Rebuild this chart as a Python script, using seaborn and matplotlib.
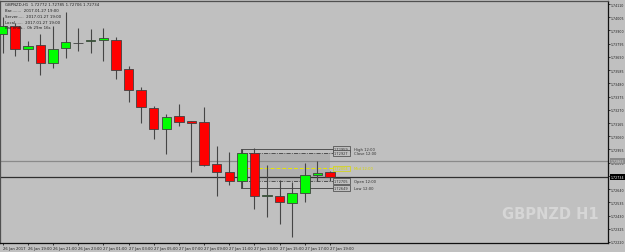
import matplotlib
matplotlib.use("Agg")
import matplotlib.pyplot as plt
import seaborn as sns
import numpy as np
import pandas as pd

# ---------------- data ----------------
times = ["26 Jan 17:00", "26 Jan 18:00", "26 Jan 19:00", "26 Jan 20:00", "26 Jan 21:00",
         "26 Jan 22:00", "26 Jan 23:00", "27 Jan 00:00", "27 Jan 01:00", "27 Jan 02:00",
         "27 Jan 03:00", "27 Jan 04:00", "27 Jan 05:00", "27 Jan 06:00", "27 Jan 07:00",
         "27 Jan 08:00", "27 Jan 09:00", "27 Jan 10:00", "27 Jan 11:00", "27 Jan 12:00",
         "27 Jan 13:00", "27 Jan 14:00", "27 Jan 15:00", "27 Jan 16:00", "27 Jan 17:00",
         "27 Jan 18:00", "27 Jan 19:00"]
opens = [1.73872, 1.73935, 1.73753, 1.73784, 1.73642, 1.73761, 1.73800, 1.73820, 1.73824,
         1.73824, 1.73594, 1.73427, 1.73284, 1.73118, 1.73221, 1.73177, 1.73173, 1.72840,
         1.72776, 1.72705, 1.72927, 1.72586, 1.72586, 1.72530, 1.72609, 1.72752, 1.72772]
highs = [1.74007, 1.73959, 1.73816, 1.73872, 1.73935, 1.74046, 1.73919, 1.73911, 1.73919,
         1.73848, 1.73618, 1.73451, 1.73300, 1.73237, 1.73316, 1.73181, 1.73292, 1.72983,
         1.72935, 1.72959, 1.72967, 1.72832, 1.72713, 1.72697, 1.72848, 1.72863, 1.72785]
lows = [1.73721, 1.73697, 1.73657, 1.73546, 1.73602, 1.73681, 1.73737, 1.73721, 1.73657,
        1.73515, 1.73332, 1.73165, 1.73038, 1.72919, 1.73141, 1.72776, 1.72824, 1.72586,
        1.72673, 1.72649, 1.72482, 1.72419, 1.72363, 1.72260, 1.72538, 1.72705, 1.72706]
closes = [1.73935, 1.73753, 1.73776, 1.73642, 1.73753, 1.73808, 1.73798, 1.73824, 1.73840,
          1.73586, 1.73427, 1.73292, 1.73118, 1.73213, 1.73173, 1.73169, 1.72832, 1.72776,
          1.72705, 1.72927, 1.72586, 1.72590, 1.72538, 1.72609, 1.72752, 1.72768, 1.72734]

x_tick_labels = ["26 Jan 2017", "26 Jan 19:00", "26 Jan 21:00", "26 Jan 23:00", "27 Jan 01:00",
                 "27 Jan 03:00", "27 Jan 05:00", "27 Jan 07:00", "27 Jan 09:00", "27 Jan 11:00",
                 "27 Jan 13:00", "27 Jan 15:00", "27 Jan 17:00", "27 Jan 19:00"]
y_tick_values = [1.74110, 1.74005, 1.73900, 1.73795, 1.73690, 1.73585, 1.73480, 1.73375,
                 1.73270, 1.73165, 1.73060, 1.72955, 1.72850, 1.72745, 1.72640, 1.72535,
                 1.72430, 1.72325, 1.72220]

hline_price = 1.72863
bid_price = 1.72734
range_bar = 19  # 12:00 bar
range_labels = ["High 12:00", "Close 12:00", "Mid 12:00", "Open 12:00", "Low 12:00"]

info_lines = ["GBPNZD,H1  1.72772 1.72785 1.72706 1.72734",
              "Bar........  2017.01.27 19:00",
              "Server.....  2017.01.27 19:00",
              "Local......  2017.01.27 19:00",
              "Bar ends..  0h 29m 16s"]

df = pd.DataFrame({"time": times, "open": opens, "high": highs, "low": lows, "close": closes})
df["idx"] = np.arange(len(df))

# ---------------- style ----------------
sns.set_theme(style="white")
plt.rcParams["font.family"] = ["DejaVu Sans"]
BG = "#c0c0c0"

fig = plt.figure(figsize=(6.25, 2.53), dpi=100, facecolor=BG)
ax = fig.add_axes([0.0, 9 / 253, 608 / 625, 242 / 253], facecolor=BG)
ax.set_xlim(-0.2, 48.06)
ax.set_ylim(1.72212, 1.74134)

# horizontal lines
ax.axhline(hline_price, color="#8a8a8a", lw=0.9, zorder=1)
ax.axhline(bid_price, color="#303030", lw=0.9, zorder=1)

# range box for 12:00 bar
rb = df.iloc[range_bar]
r_hi, r_lo, r_op, r_cl = rb["high"], rb["low"], rb["open"], rb["close"]
r_mid = (r_hi + r_lo) / 2
x0, x1 = 18.93, 26.25
ax.fill_between([20.4, 26.0], r_op, r_cl, color="#b0b0b0", zorder=0.5, lw=0)
ax.plot([x0, x1], [r_hi, r_hi], color="#505050", lw=0.7, zorder=1)
ax.plot([x0, x1], [r_lo, r_lo], color="#505050", lw=0.7, zorder=1)
ax.plot([x0, x0], [r_lo, r_hi], color="#505050", lw=0.7, zorder=1)
ax.plot([x0, x1], [r_cl, r_cl], color="#404040", lw=0.6, ls=(0, (5, 1.5, 1, 1.5)), zorder=1)
ax.plot([x0, x1], [r_op, r_op], color="#404040", lw=0.6, ls=(0, (5, 1.5, 1, 1.5)), zorder=1)
ax.plot([x0, x1], [r_mid, r_mid], color="#e6e600", lw=0.7, ls=(0, (4, 2)), zorder=1)

# candles
bull = df["close"] >= df["open"]
ax.vlines(df["idx"], df["low"], df["high"], color="#454545", lw=0.8, zorder=2)
body_bottom = np.minimum(df["open"], df["close"])
body_h = np.abs(df["close"] - df["open"])
colors = np.where(bull, "#00ff00", "#ff0000")
ax.bar(df["idx"], body_h, bottom=body_bottom, width=0.76, color=colors,
       edgecolor="#404040", linewidth=0.6, zorder=3)

# range labels
label_prices = [r_hi, r_cl, r_mid, r_op, r_lo]
for name, pr in zip(range_labels, label_prices):
    yel = name.startswith("Mid")
    ec = "#d8d800" if yel else "#404040"
    tc = "#d8d800" if yel else "#303030"
    ax.text(26.9, pr, f"{pr:.5f}", fontsize=2.5, color=tc, ha="center", va="center", zorder=5,
            bbox=dict(boxstyle="square,pad=0.25", fc=BG, ec=ec, lw=0.5))
    ax.text(27.9, pr, name, fontsize=2.7, color=tc, ha="left", va="center", zorder=5)

# watermark
ax.text(0.905, 0.12, "GBPNZD H1", transform=ax.transAxes, fontsize=10.5, fontweight="bold",
        color="#d6d6d6", ha="center", va="center", zorder=0.2)

# info text
for i, line in enumerate(info_lines):
    ax.text(0.008, 0.995 - i * 0.024, line, transform=ax.transAxes, fontsize=2.8,
            color="#202020", ha="left", va="top", zorder=6)

# axes styling
ax.yaxis.tick_right()
ax.set_yticks(y_tick_values)
ax.set_yticklabels([f"{v:.5f}" for v in y_tick_values])
ax.set_xticks(np.arange(0, 27, 2))
ax.set_xticklabels(x_tick_labels)
for t in ax.get_xticklabels():
    t.set_ha("left")
ax.tick_params(axis="y", which="both", right=True, left=False, length=1.5, width=0.6,
               labelsize=2.3, pad=0.6, colors="#202020")
ax.tick_params(axis="x", which="both", bottom=True, length=1.5, width=0.6,
               labelsize=2.7, pad=0.6, colors="#202020")
for s in ["right", "bottom"]:
    ax.spines[s].set_color("#101010")
    ax.spines[s].set_linewidth(0.9)
for s in ["left", "top"]:
    ax.spines[s].set_color("#505050")
    ax.spines[s].set_linewidth(0.9)
ax.grid(False)

# price labels on the axis
for pr, fc, tc in [(hline_price, "#8a8a8a", "#e0e0e0"), (bid_price, "#000000", "#ffffff")]:
    ax.text(1.004, pr, f"{pr:.5f}", transform=ax.get_yaxis_transform(), fontsize=2.3,
            color=tc, ha="left", va="center", clip_on=False, zorder=7,
            bbox=dict(boxstyle="square,pad=0.25", fc=fc, ec="none"))

fig.savefig("out.png", dpi=100, facecolor=BG)
